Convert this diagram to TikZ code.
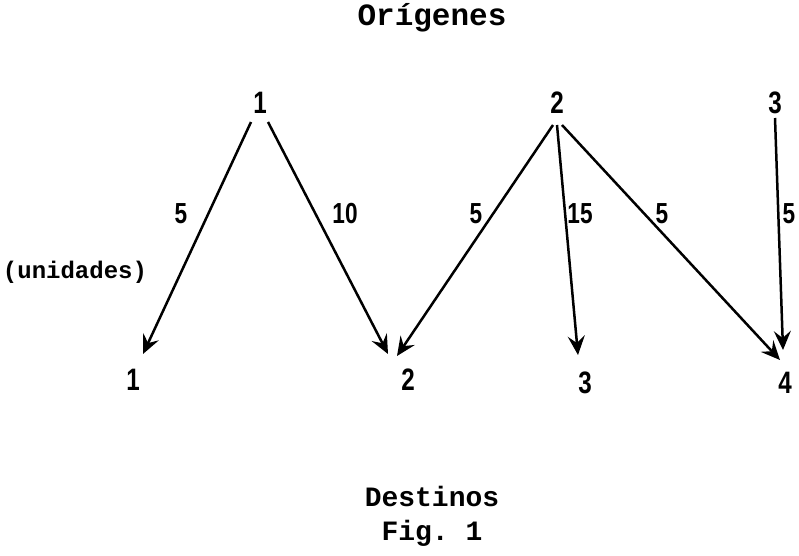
\documentclass[tikz,border=0pt]{standalone}
\usepackage{fontspec}
\setmonofont{Liberation Mono}
\newfontfamily\numfont[FakeStretch=0.78]{Liberation Sans}
\usetikzlibrary{arrows.meta}
\tikzset{
  num/.style={font=\numfont\bfseries\fontsize{31}{32}\selectfont, inner sep=0pt},
  lbl/.style={font=\numfont\bfseries\fontsize{29}{30}\selectfont, inner sep=0pt},
  tw/.style={font=\ttfamily\bfseries\fontsize{28}{30}\selectfont, inner sep=0pt},
  arr/.style={line width=2.5pt, -{Stealth[length=19pt,width=17pt,inset=7pt]}},
}
\begin{document}
\begin{tikzpicture}[x=1pt,y=-1pt]
\useasboundingbox (0,0) rectangle (799,555);
\node[tw, font=\ttfamily\bfseries\fontsize{31}{32}\selectfont] (orig) at (432,18) {Orígenes};
\node[num] (o1) at (260,103) {1};
\node[num] (o2) at (557,103) {2};
\node[num] (o3) at (775,103) {3};
\node[num] (d1) at (133,380) {1};
\node[num] (d2) at (408,380) {2};
\node[num] (d3) at (585,383) {3};
\node[num] (d4) at (785,383) {4};
\node[tw, font=\ttfamily\bfseries\fontsize{24}{26}\selectfont] (unid) at (75,272) {(unidades)};
\node[tw] (dest) at (432,496) {Destinos};
\node[tw] (fig) at (432,533) {Fig. 1};
\draw[arr] ([shift={(-9,19)}]o1.center) -- ([shift={(10,-26)}]d1.center);
\draw[arr] ([shift={(8,19)}]o1.center) -- ([shift={(-20,-26)}]d2.center);
\draw[arr] ([shift={(-4,22)}]o2.center) -- ([shift={(-11,-24)}]d2.center);
\draw[arr] ([shift={(0,22)}]o2.center) -- ([shift={(-7,-28)}]d3.center);
\draw[arr] ([shift={(5,22)}]o2.center) -- ([shift={(-5,-23)}]d4.center);
\draw[arr] ([shift={(0,15)}]o3.center) -- ([shift={(-2,-33)}]d4.center);
\node[lbl] (l1) at (181,214) {5};
\node[lbl] (l2) at (345,214) {10};
\node[lbl] (l3) at (476,214) {5};
\node[lbl] (l4) at (580,214) {15};
\node[lbl] (l5) at (662,214) {5};
\node[lbl] (l6) at (789,214) {5};
\end{tikzpicture}
\end{document}
